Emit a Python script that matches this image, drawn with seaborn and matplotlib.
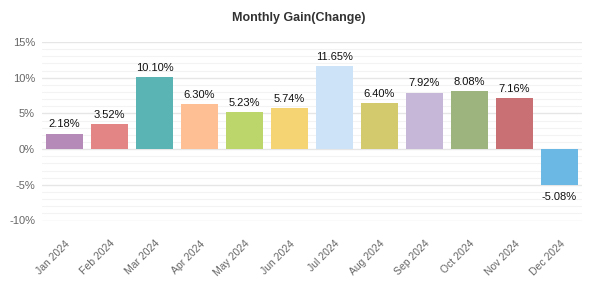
import matplotlib
matplotlib.use("Agg")
import matplotlib.pyplot as plt
import seaborn as sns
import pandas as pd
from matplotlib.ticker import MultipleLocator, FuncFormatter

months = ["Jan 2024", "Feb 2024", "Mar 2024", "Apr 2024", "May 2024", "Jun 2024",
          "Jul 2024", "Aug 2024", "Sep 2024", "Oct 2024", "Nov 2024", "Dec 2024"]
gains = [2.18, 3.52, 10.10, 6.30, 5.23, 5.74, 11.65, 6.40, 7.92, 8.08, 7.16, -5.08]
colors = ["#b589b8", "#e38585", "#5ab4b4", "#ffbf94", "#bdd66c", "#f5d474",
          "#cde4f8", "#d2ca6c", "#c6b6d8", "#9db47e", "#c87073", "#6cb8e4"]

df = pd.DataFrame({"month": months, "gain": gains})

sns.set_style("white")
plt.rcParams['font.family'] = ['Liberation Sans', 'DejaVu Sans']

fig = plt.figure(figsize=(5.93, 2.84), dpi=100)
ax = fig.add_axes([42/593, 1-220.5/284, 540/593, (220.5-42)/284])

sns.barplot(data=df, x="month", y="gain", hue="month", palette=colors,
            legend=False, width=0.82, ax=ax, saturation=1, linewidth=0)

ax.set_ylim(-10, 15)
ax.set_xlim(-0.5, 11.5)
ax.yaxis.set_major_locator(MultipleLocator(5))
ax.yaxis.set_minor_locator(MultipleLocator(1))
ax.yaxis.set_major_formatter(FuncFormatter(lambda v, p: f"{int(v)}%"))
ax.grid(True, which="major", axis="y", color="#e6e6e6", linewidth=1)
ax.grid(True, which="minor", axis="y", color="#f3f3f3", linewidth=0.8)
ax.set_axisbelow(True)
for s in ax.spines.values():
    s.set_visible(False)
ax.tick_params(axis="y", which="both", length=0, labelsize=8, labelcolor="#666666", pad=5)
ax.tick_params(axis="x", length=0, labelsize=7.5, labelcolor="#666666", pad=13)
plt.setp(ax.get_xticklabels(), rotation=45, ha="right", rotation_mode="anchor")
ax.set_xlabel("")
ax.set_ylabel("")

for i, v in enumerate(gains):
    if v >= 0:
        ax.annotate(f"{v:.2f}%", (i, v), xytext=(0, 3), textcoords="offset points",
                    ha="center", va="bottom", fontsize=8, color="#111111")
    else:
        ax.annotate(f"{v:.2f}%", (i, v), xytext=(0, -5), textcoords="offset points",
                    ha="center", va="top", fontsize=8, color="#111111")

fig.text(299/593, 1-18/284, "Monthly Gain(Change)", ha="center", va="center",
         fontsize=9, fontweight="bold", color="#333333")

fig.savefig("out.png", dpi=100)
